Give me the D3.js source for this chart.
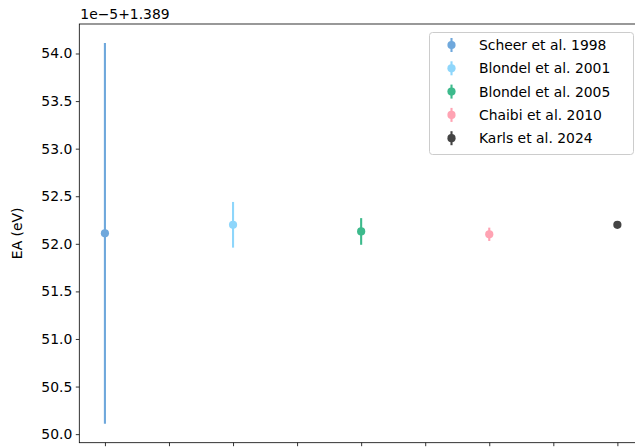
<!DOCTYPE html>
<html>
<head>
<meta charset="utf-8">
<script src="https://cdn.jsdelivr.net/npm/d3@7"></script>
<style>
  html, body { margin: 0; padding: 0; background: #fff; }
  svg { display: block; font-family: "DejaVu Sans", sans-serif; }
</style>
</head>
<body>
<svg id="chart" width="635" height="447"></svg>
<script>
// Electron affinity measurements, shown as (value - 1.389 eV) in units of 1e-5 eV
const labels = ["Scheer et al. 1998", "Blondel et al. 2001", "Blondel et al. 2005", "Chaibi et al. 2010", "Karls et al. 2024"];
const values = [52.11, 52.20, 52.13, 52.10, 52.20];
const errors = [2.00, 0.24, 0.14, 0.07, 0.01];
const colors = ["#6fa8dc", "#8ed6fb", "#3dba8c", "#ffa3b3", "#444444"];
const yTicks = [50.0, 50.5, 51.0, 51.5, 52.0, 52.5, 53.0, 53.5, 54.0];
const xTicks = [0, 0.5, 1, 1.5, 2, 2.5, 3, 3.5, 4];

const svg = d3.select("#chart");
const fs = 13.9;
const plotL = 79.3, plotT = 24, plotB = 442.7, plotR = 643;

const points = labels.map((l, i) => ({ label: l, x: i, y: values[i], e: errors[i], color: colors[i] }));

// matplotlib-style 5% margins around the data extent
const lo = d3.min(points, d => d.y - d.e), hi = d3.max(points, d => d.y + d.e);
const ypad = (hi - lo) * 0.05;
const n = points.length - 1;
const x = d3.scaleLinear().domain([-0.05 * n, n + 0.05 * n]).range([plotL, plotR]);
const y = d3.scaleLinear().domain([lo - ypad, hi + ypad]).range([plotB, plotT]);

// axes
const yAxis = d3.axisLeft(y).tickValues(yTicks).tickFormat(d3.format(".1f")).tickSize(3.5).tickPadding(3.5);
const xAxis = d3.axisBottom(x).tickValues(xTicks).tickFormat("").tickSize(3.5);

const gy = svg.append("g").attr("transform", `translate(${plotL},0)`).call(yAxis);
const gx = svg.append("g").attr("transform", `translate(0,${plotB})`).call(xAxis);
[gx, gy].forEach(g => {
  g.select(".domain").remove();
  g.selectAll(".tick line").attr("stroke", "#000").attr("stroke-width", 0.8);
  g.selectAll(".tick text").attr("fill", "#000").style("font-size", fs + "px").style("font-family", "DejaVu Sans");
});

// frame
svg.append("rect").attr("x", plotL).attr("y", plotT).attr("width", plotR - plotL).attr("height", plotB - plotT)
  .attr("fill", "none").attr("stroke", "#000").attr("stroke-width", 0.8);

// error bars and markers
const g = svg.append("g");
g.selectAll("line.err").data(points).join("line")
  .attr("class", "err")
  .attr("x1", d => x(d.x)).attr("x2", d => x(d.x))
  .attr("y1", d => y(d.y - d.e)).attr("y2", d => y(d.y + d.e))
  .attr("stroke", d => d.color).attr("stroke-width", 2.1);
g.selectAll("circle.pt").data(points).join("circle")
  .attr("class", "pt")
  .attr("cx", d => x(d.x)).attr("cy", d => y(d.y)).attr("r", 4.1)
  .attr("fill", d => d.color);

// offset text and axis label
svg.append("text").attr("x", plotL + 1).attr("y", 19).style("font-size", fs + "px").attr("fill", "#000")
  .text("1e\u22125+1.389");
svg.append("text").attr("transform", `translate(22,${(plotT + plotB) / 2}) rotate(-90)`)
  .attr("text-anchor", "middle").style("font-size", fs + "px").attr("fill", "#000").text("EA (eV)");

// legend
const lg = svg.append("g").attr("transform", "translate(429.5,32.5)");
lg.append("rect").attr("width", 204).attr("height", 122).attr("rx", 3)
  .attr("fill", "#fff").attr("fill-opacity", 0.8).attr("stroke", "#cccccc").attr("stroke-width", 1);
const rowH = 23.3;
const items = lg.selectAll("g.item").data(points).join("g")
  .attr("class", "item")
  .attr("transform", (d, i) => `translate(0,${12.5 + i * rowH})`);
items.append("line").attr("x1", 22).attr("x2", 22).attr("y1", -7).attr("y2", 7)
  .attr("stroke", d => d.color).attr("stroke-width", 2.1);
items.append("circle").attr("cx", 22).attr("cy", 0).attr("r", 4.1).attr("fill", d => d.color);
items.append("text").attr("x", 49.5).attr("y", 5).style("font-size", fs + "px").attr("fill", "#000")
  .text(d => d.label);
</script>
</body>
</html>
